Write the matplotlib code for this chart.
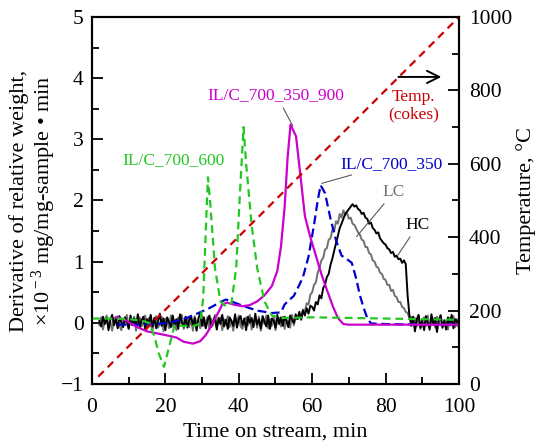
import numpy as np
import matplotlib
matplotlib.use("Agg")
import matplotlib.pyplot as plt
from matplotlib.ticker import MultipleLocator

plt.rcParams['font.family'] = ['Liberation Serif', 'DejaVu Serif']
plt.rcParams['mathtext.fontset'] = 'custom'
plt.rcParams['mathtext.rm'] = 'Liberation Serif'
plt.rcParams['mathtext.it'] = 'Liberation Serif:italic'

# ---------------- data ----------------
# IL/C_700_600 (green dashed)
g_x = [0, 5, 10, 14, 15.5, 16.8, 18.2, 19.6, 21.0, 22.5, 25, 28, 29.5, 30.3, 31.0, 31.6, 32.3, 33.5, 35, 36.5,
       38, 39.3, 40.3, 41.3, 42.0, 43.5, 45, 47, 49, 52, 60, 70, 80, 90, 100]
g_y = [0.07, 0.07, 0.06, 0.03, 0.0, -0.18, -0.5, -0.72, -0.4, -0.04, -0.05, -0.05, 0.0, 0.4, 1.5, 2.38, 1.9, 0.9, 0.35, 0.27,
       0.32, 0.9, 2.1, 3.2, 2.6, 1.6, 0.9, 0.35, 0.12, 0.08, 0.09, 0.08, 0.07, 0.06, 0.05]

# IL/C_700_350 (blue dashed)
b_x = [7, 12, 17, 21, 25, 29, 32, 35, 36.5, 38, 41, 45, 49, 51.5, 52.5, 53.5, 55, 56.5, 57.5, 59, 60.5, 61.5, 62.3,
       63.5, 65, 66.5, 68, 69.5, 70.8, 72, 73, 74, 75, 76, 80, 90, 100]
b_y = [-0.03, -0.03, -0.02, 0.0, 0.06, 0.16, 0.24, 0.34, 0.38, 0.35, 0.28, 0.2, 0.16, 0.17, 0.3, 0.36, 0.44, 0.62, 0.75, 1.08, 1.6, 2.0, 2.25,
       2.12, 1.7, 1.35, 1.1, 1.04, 0.98, 0.72, 0.45, 0.25, 0.08, -0.01, -0.02, -0.03, -0.03]

# IL/C_700_350_900 (magenta solid)
m_x = [6.5, 9, 12, 15, 17.5, 20, 23, 25, 27.5, 29.5, 31, 32.5, 34, 35.5, 36.8, 38.5, 41, 43, 45, 47, 49, 50.5, 51.5,
       52.5, 53.3, 54.1, 55.6, 57, 58, 59.4, 61, 62.5, 64, 65.7, 67, 68.5, 70, 80, 90, 100]
m_y = [0.09, 0.05, -0.06, -0.14, -0.17, -0.2, -0.24, -0.31, -0.34, -0.3, -0.2, -0.05, 0.12, 0.3, 0.33, 0.3, 0.27, 0.29, 0.35, 0.45, 0.6, 0.85, 1.25,
       1.9, 2.7, 3.24, 3.05, 2.3, 1.75, 1.42, 1.1, 0.8, 0.54, 0.26, 0.08, -0.02, -0.03, -0.03, -0.03, -0.03]

# sample times for the noisy TG curves (every 0.5 min)
tg_x = np.arange(2.0, 100.01, 0.5)

# HC (black)
hc_y = [0.03, -0.06, 0.10, -0.02, 0.08, -0.12, 0.05, 0.13, -0.04, 0.06,
        -0.09, 0.11, 0.00, -0.07, 0.09, 0.02, -0.10, 0.12, -0.03, 0.07,
        -0.05, 0.14, -0.08, 0.04, 0.10, -0.11, 0.06, -0.02, 0.13, -0.06,
        0.08, -0.09, 0.03, 0.15, -0.05, 0.07, -0.12, 0.09, 0.01, -0.07,
        0.12, -0.03, 0.06, -0.10, 0.14, 0.00, -0.06, 0.10, -0.08, 0.05,
        0.11, -0.04, 0.08, -0.13, 0.07, 0.16, -0.05, 0.09, -0.09, 0.04,
        0.12, -0.07, 0.02, 0.10, -0.11, 0.08, -0.02, 0.13, -0.06, 0.05,
        -0.10, 0.09, 0.03, -0.05, 0.14, -0.08, 0.06, 0.11, -0.04, 0.07,
        -0.12, 0.10, 0.00, 0.08, -0.07, 0.15, -0.03, 0.06, -0.09, 0.11,
        0.02, -0.06, 0.12, -0.10, 0.07, 0.04, -0.08, 0.13, -0.02, 0.09,
        -0.05, 0.10, 0.03, -0.07, 0.12, 0.05,
        0.00, 0.14, 0.06, 0.18, 0.05, 0.20, 0.12, 0.24, 0.15, 0.28,
        0.26, 0.20, 0.34, 0.30, 0.45, 0.40, 0.57, 0.62, 0.75, 0.80, 0.95,
        1.05, 1.18, 1.30, 1.42, 1.55, 1.62, 1.70, 1.78, 1.82, 1.86, 1.90,
        1.94, 1.90, 1.92, 1.86, 1.84, 1.78, 1.80, 1.72, 1.70, 1.62,
        1.64, 1.55, 1.52, 1.46, 1.48, 1.38, 1.34, 1.30, 1.28, 1.22,
        1.20, 1.14, 1.16, 1.08, 1.10, 1.04, 1.05, 0.98, 1.02, 0.96,
        0.45, 0.12,
        -0.05, 0.10, -0.14, 0.06, 0.13, -0.08, 0.04, -0.12, 0.11, 0.00,
        -0.10, 0.14, -0.03, 0.08, -0.15, 0.05, 0.12, -0.07, 0.03, -0.11,
        0.09, -0.04, 0.13, -0.09, 0.06, 0.02, -0.08]

# LC (gray)
lc_y = [-0.04, 0.09, -0.11, 0.05, 0.12, -0.07, 0.02, -0.13, 0.08, 0.03,
        0.11, -0.05, -0.12, 0.07, 0.00, 0.13, -0.09, 0.04, -0.03, 0.10,
        -0.13, 0.06, 0.09, -0.06, 0.01, 0.12, -0.10, 0.08, -0.04, -0.12,
        0.05, 0.11, -0.08, -0.02, 0.10, -0.14, 0.07, 0.03, -0.09, 0.12,
        -0.06, 0.04, -0.12, 0.09, -0.01, 0.13, -0.10, 0.02, 0.08, -0.07,
        0.06, -0.13, 0.11, -0.03, 0.05, -0.09, 0.12, -0.05, 0.00, 0.10,
        -0.11, 0.07, -0.04, 0.13, -0.08, 0.03, 0.09, -0.12, 0.06, -0.02,
        0.11, -0.07, 0.04, -0.13, 0.08, 0.00, 0.12, -0.06, -0.10, 0.05,
        0.09, -0.04, 0.13, -0.11, 0.02, 0.07, -0.08, 0.10, -0.13, 0.04,
        -0.02, 0.12, -0.09, 0.06, -0.05, 0.11, -0.12, 0.03, 0.08, -0.06,
        0.10, -0.10, 0.05, 0.02, -0.08, 0.13, -0.04, 0.09, 0.06, 0.14,
        0.12, 0.22, 0.18, 0.32, 0.30, 0.46, 0.50, 0.62, 0.66, 0.82, 0.90, 1.02,
        1.06, 1.20, 1.22, 1.36, 1.38, 1.52, 1.50, 1.66, 1.62, 1.78, 1.72, 1.84,
        1.76, 1.80, 1.70, 1.72, 1.62, 1.60, 1.54, 1.48, 1.44, 1.36,
        1.34, 1.24, 1.24, 1.14, 1.12, 1.02, 1.00, 0.92, 0.90, 0.82,
        0.80, 0.72, 0.70, 0.62, 0.62, 0.52, 0.54, 0.44, 0.42, 0.34,
        0.34, 0.26, 0.24, 0.18, 0.16, 0.08, 0.10, 0.02,
        0.08, -0.06, 0.11, -0.10, 0.04, 0.09, -0.05, 0.12, -0.12, 0.03,
        0.07, -0.08, 0.10, -0.03, 0.13, -0.09, 0.05, 0.01, -0.11, 0.08,
        -0.04, 0.11, -0.07, 0.06, 0.02]

# Temperature of cokes (right axis)
t_x = [1.7, 100]
t_y = [20, 1000]

# ---------------- figure ----------------
fig = plt.figure(figsize=(5.37, 4.45), dpi=100)
ax = fig.add_axes([0.1713, 0.1371, 0.6834, 0.8247])
ax2 = ax.twinx()

ax.plot(tg_x, lc_y, color='#707070', lw=1.4, zorder=2)
ax.plot(tg_x, hc_y, color='black', lw=1.4, zorder=3)
ax.plot(b_x, b_y, color='#0000CC', lw=1.6, dashes=(4, 2), zorder=4)
ax.plot(m_x, m_y, color='#CC00CC', lw=1.6, zorder=5)
ax.plot(g_x, g_y, color='#22C722', lw=1.6, dashes=(3.5, 2.2), zorder=6)

ax2.plot(t_x, t_y, color='#CC0000', lw=1.6, dashes=(3.5, 2.5))

ax.set_xlim(0, 100)
ax.set_ylim(-1, 5)
ax2.set_ylim(0, 1000)

ax.xaxis.set_major_locator(MultipleLocator(20))
ax.xaxis.set_minor_locator(MultipleLocator(10))
ax.yaxis.set_major_locator(MultipleLocator(1))
ax.yaxis.set_minor_locator(MultipleLocator(0.5))
ax2.yaxis.set_major_locator(MultipleLocator(200))
ax2.yaxis.set_minor_locator(MultipleLocator(100))

for a in (ax, ax2):
    a.tick_params(which='both', direction='in', labelsize=15.5, width=1.3)
    a.tick_params(which='major', length=8)
    a.tick_params(which='minor', length=5)
    for s in a.spines.values():
        s.set_linewidth(1.5)
ax.tick_params(axis='x', pad=10)
ax.tick_params(axis='y', pad=6)
ax2.tick_params(axis='y', pad=7)

ax.set_xlabel('Time on stream, min', fontsize=16, labelpad=4)
ax.set_ylabel('Derivative of relative weight,\n' + r'$\times$10$^{\rm -3}$ mg/mg-sample • min',
              fontsize=16, linespacing=1.05, labelpad=2)
ax2.set_ylabel('Temperature, \u00b0C', fontsize=16, labelpad=3)

# annotations
ax.text(22.1, 2.66, 'IL/C_700_600', color='#22C722', fontsize=12.5, ha='center', va='center')
ax.annotate('IL/C_700_350_900', xy=(54.7, 3.22), xytext=(50.2, 3.73), color='#CC00CC', fontsize=12.5,
            ha='center', va='center',
            arrowprops=dict(arrowstyle='-', color='0.35', lw=0.8, shrinkA=2, shrinkB=0))
ax.annotate('IL/C_700_350', xy=(62.6, 2.28), xytext=(81.5, 2.6), color='#0000CC', fontsize=12.5,
            ha='center', va='center',
            arrowprops=dict(arrowstyle='-', color='0.35', lw=0.8, shrinkA=1, shrinkB=0))
ax.annotate('LC', xy=(72.1, 1.41), xytext=(82.3, 2.14), color='#707070', fontsize=12.5,
            ha='center', va='center',
            arrowprops=dict(arrowstyle='-', color='0.35', lw=0.8, shrinkA=1, shrinkB=0))
ax.annotate('HC', xy=(83.4, 1.11), xytext=(88.8, 1.6), color='black', fontsize=12.5,
            ha='center', va='center',
            arrowprops=dict(arrowstyle='-', color='0.35', lw=0.8, shrinkA=1, shrinkB=0))
ax.text(87.6, 3.55, 'Temp.\n(cokes)', color='#CC0000', fontsize=12.5, ha='center', va='center',
        linespacing=1.1)
ax.annotate('', xy=(95.2, 4.02), xytext=(83.5, 4.02),
            arrowprops=dict(arrowstyle='->', color='black', lw=1.4, mutation_scale=22, shrinkA=0, shrinkB=0))

fig.savefig('out.png', dpi=100)
